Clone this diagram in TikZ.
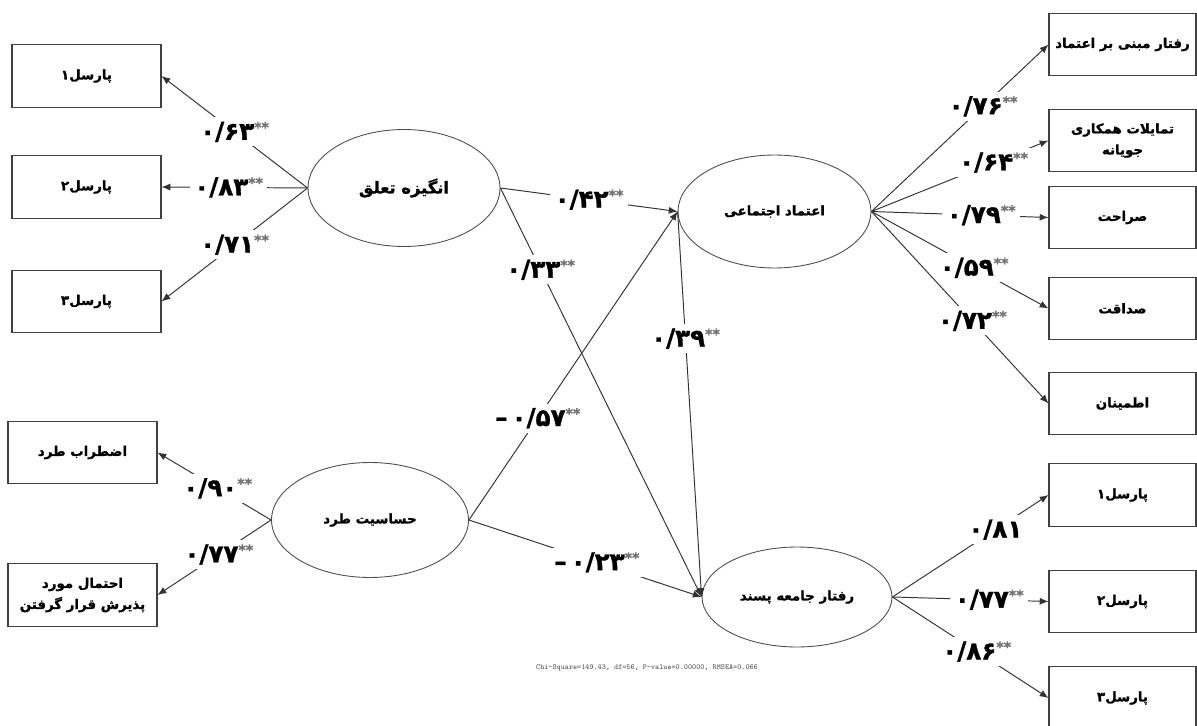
\documentclass[tikz,border=0pt]{standalone}
\usepackage{fontspec}
\usetikzlibrary{arrows.meta,shapes.geometric}
\TeXXeTstate=1
\newfontfamily\farsi[Script=Arabic,BoldFeatures={FakeBold=1.2}]{DejaVu Sans}
\newcommand{\fa}[1]{\beginR #1\endR}
\newcommand{\cf}[1]{#1\textcolor{black!55}{\raisebox{0.55ex}{\fontsize{8}{8}\selectfont **}}}

\begin{document}
\begin{tikzpicture}[x=0.02cm,y=-0.02cm,
  box/.style={draw=black!75,line width=0.6pt,minimum width=2.98cm,minimum height=1.25cm,
    align=center,font=\farsi\bfseries\fontsize{7.6}{12}\selectfont},
  latent/.style={draw=black!70,line width=0.5pt,ellipse,inner sep=0pt,
    font=\farsi\bfseries\fontsize{7.6}{12}\selectfont},
  coef/.style={fill=white,inner sep=2.5pt,font=\farsi\bfseries\fontsize{14}{14}\selectfont},
  link/.style={draw=black!80,line width=0.55pt,-{Latex[length=5pt,width=4pt]}}]

  \useasboundingbox (0,0) rectangle (1197,726);

  % Latent variables
  \node[latent,minimum width=3.84cm,minimum height=2.34cm,
    font=\farsi\bfseries\fontsize{9.3}{12}\selectfont] (angize) at (404,188) {\fa{انگیزه تعلق}};
  \node[latent,minimum width=3.94cm,minimum height=2.3cm] (hasasiat) at (370,520) {\fa{حساسیت طرد}};
  \node[latent,minimum width=3.86cm,minimum height=2.26cm] (etemad) at (774.5,211.5) {\fa{اعتماد اجتماعی}};
  \node[latent,minimum width=3.8cm,minimum height=2cm] (raftar) at (797,597) {\fa{رفتار جامعه پسند}};

  % Indicators on the left
  \node[box] (p1l) at (86.5,76) {\fa{پارسل۱}};
  \node[box] (p2l) at (86.5,187) {\fa{پارسل۲}};
  \node[box] (p3l) at (86.5,301.5) {\fa{پارسل۳}};
  \node[box] (ezterab) at (82.5,452.5) {\fa{اضطراب طرد}};
  \node[box] (ehtemal) at (82.5,595) {\fa{احتمال مورد}\\\fa{پذیرش قرار گرفتن}};

  % Indicators on the right
  \node[box,minimum width=2.94cm] (mabni) at (1122.5,44.5) {\fa{رفتار مبنی بر اعتماد}};
  \node[box,minimum width=2.94cm] (hamkari) at (1122.5,140.5) {\fa{تمایلات همکاری}\\\fa{جویانه}};
  \node[box,minimum width=2.94cm] (sarahat) at (1122.5,217.5) {\fa{صراحت}};
  \node[box,minimum width=2.94cm] (sedaqat) at (1122.5,308.5) {\fa{صداقت}};
  \node[box,minimum width=2.94cm] (etminan) at (1122.5,403.5) {\fa{اطمینان}};
  \node[box,minimum width=2.94cm] (p1r) at (1122.5,495) {\fa{پارسل۱}};
  \node[box,minimum width=2.94cm] (p2r) at (1122.5,601.5) {\fa{پارسل۲}};
  \node[box,minimum width=2.94cm] (p3r) at (1122.5,698) {\fa{پارسل۳}};

  % Loadings
  \draw[link] (angize.west) -- node[coef,pos=0.5] {\cf{۰/۶۳}} (p1l.east);
  \draw[link] (angize.west) -- node[coef,pos=0.54] {\cf{۰/۸۳}} (p2l.east);
  \draw[link] (angize.west) -- node[coef,pos=0.5] {\cf{۰/۷۱}} (p3l.east);
  \draw[link] (hasasiat.west) -- node[coef,pos=0.47] {\cf{۰/۹۰}} (ezterab.east);
  \draw[link] (hasasiat.west) -- node[coef,pos=0.46] {\cf{۰/۷۷}} (ehtemal.east);

  \draw[link] (etemad.east) -- node[coef,pos=0.63] {\cf{۰/۷۶}} (mabni.west);
  \draw[link] (etemad.east) -- node[coef,pos=0.69] {\cf{۰/۶۴}} (hamkari.west);
  \draw[link] (etemad.east) -- node[coef,pos=0.62] {\cf{۰/۷۹}} (sarahat.west);
  \draw[link] (etemad.east) -- node[coef,pos=0.58] {\cf{۰/۵۹}} (sedaqat.west);
  \draw[link] (etemad.east) -- node[coef,pos=0.57] {\cf{۰/۷۲}} (etminan.west);

  \draw[link] (raftar.east) -- node[coef,pos=0.66] {۰/۸۱} (p1r.west);
  \draw[link] (raftar.east) -- node[coef,pos=0.62] {\cf{۰/۷۷}} (p2r.west);
  \draw[link] (raftar.east) -- node[coef,pos=0.54] {\cf{۰/۸۶}} (p3r.west);

  % Structural paths
  \draw[link] (angize.east) -- node[coef,pos=0.5] {\cf{۰/۴۲}} (etemad.west);
  \draw[link] (angize.east) -- node[coef,pos=0.2] {\cf{۰/۳۳}} (raftar.west);
  \draw[link] (hasasiat.east) -- node[coef,pos=0.33] {\cf{–\,۰/۵۷}} (etemad.west);
  \draw[link] (hasasiat.east) -- node[coef,pos=0.55] {\cf{–\,۰/۲۳}} (raftar.west);
  \draw[link] (etemad.west) -- node[coef,pos=0.33] {\cf{۰/۳۹}} (raftar.west);

  % Fit indices
  \node[font=\ttfamily\fontsize{4.4}{5}\selectfont,text=black!70] (fit) at (647,668)
    {Chi-Square=149.43, df=56, P-value=0.00000, RMSEA=0.066};
\end{tikzpicture}
\end{document}
